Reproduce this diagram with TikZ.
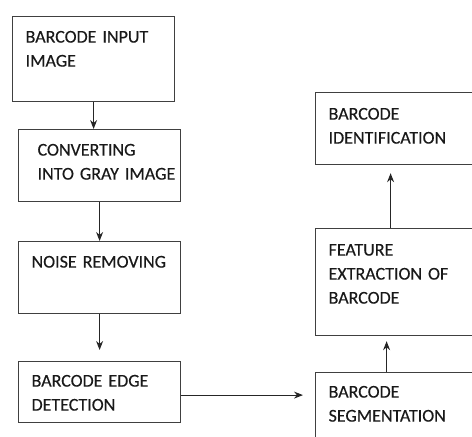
\documentclass[tikz,border=0pt]{standalone}
\usepackage{fontspec}
\setmainfont{Carlito}[FakeBold=0.35]
\usetikzlibrary{arrows.meta}

\newcommand\boxfont{\fontsize{18}{24}\selectfont\fontdimen2\font=2.5pt\relax}

\tikzset{
	box/.style={draw=black!75, line width=1.2pt, anchor=north west, align=left,
		text width=136pt, inner xsep=13pt, inner ysep=0pt, text=black!90,
		font=\boxfont},
	arr/.style={draw=black!85, line width=1.1pt, -{Stealth[length=9pt,width=7pt]}}
}

\begin{document}
\begin{tikzpicture}[x=1pt,y=-1pt]
	\useasboundingbox (0,0) rectangle (472,437);
	\clip (0,0) rectangle (472,437);
	% left column
	\node[box, text height=26pt, text depth=59pt] (input) at (12,16) {BARCODE INPUT\\IMAGE};
	\node[box, text height=26pt, text depth=46pt] (convert) at (18,129) {\hspace*{6pt}CONVERTING\\\hspace*{6pt}\mbox{INTO GRAY IMAGE}};
	\node[box, text height=26pt, text depth=46pt] (noise) at (18,241) {NOISE REMOVING};
	\node[box, text height=25pt, text depth=36pt] (edge) at (18,361) {BARCODE EDGE\\DETECTION};
	% right column
	\node[box, text height=27pt, text depth=45pt] (ident) at (315,92) {BARCODE\\IDENTIFICATION};
	\node[box, text height=27pt, text depth=80pt] (feature) at (315,228) {FEATURE\\EXTRACTION OF\\BARCODE};
	\node[box, text height=25pt, text depth=60pt] (seg) at (315,372) {BARCODE\\SEGMENTATION};

	\draw[arr] (input.south) -- (input.south |- convert.north);
	\draw[arr] (convert) -- (noise);
	\draw[arr, shorten >=11pt] (noise) -- (edge);
	\draw[arr, shorten >=12pt] ([yshift=-3pt]edge.east) -- ([yshift=-3pt]edge.east -| seg.west);
	\draw[arr, shorten >=5pt] ([xshift=-10pt]seg.north) -- ([xshift=-10pt]seg.north |- feature.south);
	\draw[arr, shorten >=8pt] ([xshift=-6pt]feature.north) -- ([xshift=-6pt]feature.north |- ident.south);
\end{tikzpicture}
\end{document}
